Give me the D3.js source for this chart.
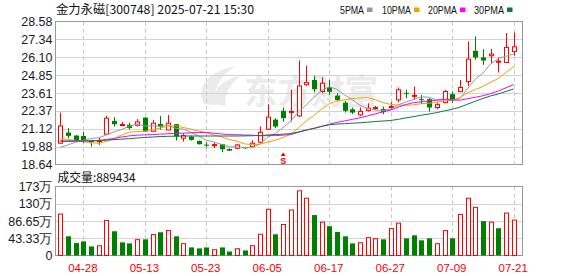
<!DOCTYPE html>
<html><head><meta charset="utf-8">
<script src="https://cdn.jsdelivr.net/npm/d3@7"></script>
<style>body{margin:0;background:#fff;} svg{display:block}</style>
</head><body>
<svg id="c" width="578" height="276"></svg>
<script>
// ---------- data ----------
const dates = ["04-23","04-24","04-25","04-28","04-29","04-30","05-06","05-07","05-08","05-09",
"05-12","05-13","05-14","05-15","05-16","05-19","05-20","05-21","05-22","05-23",
"05-26","05-27","05-28","05-29","05-30","06-03","06-04","06-05","06-06","06-09",
"06-10","06-11","06-12","06-13","06-16","06-17","06-18","06-19","06-20","06-23",
"06-24","06-25","06-26","06-27","06-30","07-01","07-02","07-03","07-04","07-07",
"07-08","07-09","07-10","07-11","07-14","07-15","07-16","07-17","07-18","07-21"];
const opens = [20.12,20.86,20.65,20.62,20.30,20.22,20.75,21.67,21.40,21.40,
21.37,21.90,20.95,21.46,21.04,21.44,20.47,20.58,20.28,20.02,
19.95,20.05,19.72,19.77,19.84,19.88,20.19,21.09,21.76,22.37,
22.28,22.02,24.18,24.52,23.71,24.00,23.43,22.94,22.48,22.09,
22.39,22.58,22.50,22.65,23.13,23.62,23.42,23.18,23.18,22.60,
22.94,23.53,23.71,24.40,26.54,26.08,26.20,25.78,25.73,26.49];
const highs = [22.25,21.16,20.70,20.93,20.35,20.51,22.02,21.93,21.60,21.55,
21.79,21.92,21.74,22.02,22.09,21.46,20.81,20.65,20.30,20.19,
20.16,20.05,19.75,20.05,19.86,20.33,21.28,22.83,21.86,22.60,
23.82,25.87,25.50,24.80,24.71,24.52,23.60,23.06,22.60,22.60,
22.90,22.71,22.67,22.97,23.99,23.83,24.06,23.48,23.25,22.90,
23.83,23.71,24.52,27.19,27.54,26.66,26.66,26.08,27.77,27.81];
const lows = [20.10,20.47,20.28,20.12,19.88,20.00,20.72,21.28,21.30,21.05,
21.28,20.90,20.93,21.05,21.02,20.30,20.23,20.30,20.03,19.84,
19.77,19.49,19.57,19.70,19.72,19.86,20.15,21.05,21.18,21.62,
21.62,21.95,24.12,23.67,23.60,23.48,23.02,22.25,22.14,22.02,
22.32,22.44,22.14,22.44,22.97,23.25,23.13,22.84,22.32,22.48,
22.90,22.90,23.68,24.10,25.92,25.57,25.67,25.03,25.70,26.20];
const closes = [21.32,20.63,20.34,20.32,20.20,20.30,21.86,21.44,21.42,21.18,
21.60,20.93,21.51,21.27,21.51,20.58,20.65,20.35,20.05,20.00,
20.02,19.70,19.60,20.00,19.77,20.12,20.88,21.93,21.28,21.86,
22.33,24.10,24.33,23.87,24.29,23.69,23.13,22.37,22.25,22.33,
22.55,22.60,22.28,22.67,23.83,23.58,23.45,23.15,22.60,22.80,
23.71,23.10,23.99,25.96,26.08,25.87,26.31,25.82,26.78,26.82];
// volume in 万 (10k)
const volumes = [104.0,48.2,31.2,35.5,22.8,24.5,88.0,60.9,33.0,30.4,
39.8,40.6,52.5,58.4,62.7,48.2,29.7,20.3,17.8,20.3,
14.4,20.3,10.1,17.0,12.7,24.6,53.3,116.0,53.3,77.9,
114.2,162.4,143.8,101.5,83.7,73.6,59.2,48.2,30.4,32.1,
44.8,42.3,40.6,67.6,81.2,43.1,50.7,38.1,43.1,29.6,
62.6,43.1,103.2,143.8,120.9,86.3,83.7,68.5,106.6,88.9434];
const ma5 = [19.84,20.00,20.19,20.33,20.45,20.50,20.70,20.90,21.08,21.30,
21.45,21.31,21.33,21.30,21.36,21.16,21.10,20.87,20.63,20.33,
20.21,20.02,19.87,19.86,19.82,19.84,20.07,20.54,20.80,21.21,
21.66,22.30,22.78,23.30,23.78,24.06,23.86,23.47,23.15,22.75,
22.53,22.42,22.40,22.49,22.79,22.99,23.16,23.34,23.32,23.12,
23.14,23.07,23.24,23.91,24.57,25.00,25.64,26.01,26.17,26.32];
const ma10 = [20.40,20.40,20.30,20.22,20.15,20.12,20.25,20.45,20.68,20.90,
20.93,20.96,21.07,21.17,21.30,21.33,21.21,21.10,20.96,20.85,
20.69,20.56,20.37,20.25,20.07,20.03,20.05,20.21,20.33,20.52,
20.75,21.19,21.66,22.05,22.50,22.86,23.08,23.13,23.22,23.27,
23.29,23.14,22.94,22.82,22.77,22.76,22.79,22.87,22.90,22.95,
23.07,23.12,23.29,23.62,23.84,24.07,24.36,24.62,25.04,25.44];
const ma20 = [20.28,20.28,20.29,20.29,20.30,20.31,20.38,20.45,20.55,20.63,
20.68,20.70,20.72,20.75,20.78,20.80,20.82,20.84,20.86,20.87,
20.81,20.76,20.72,20.71,20.69,20.68,20.63,20.65,20.65,20.68,
20.72,20.88,21.02,21.15,21.29,21.44,21.57,21.67,21.78,21.89,
22.02,22.16,22.30,22.43,22.63,22.81,22.94,23.00,23.06,23.11,
23.18,23.13,23.11,23.22,23.31,23.42,23.57,23.75,23.97,24.20];
const ma30 = [20.25,20.25,20.26,20.27,20.28,20.30,20.33,20.37,20.40,20.44,
20.48,20.52,20.55,20.58,20.60,20.61,20.62,20.62,20.62,20.62,
20.62,20.62,20.62,20.62,20.63,20.64,20.66,20.69,20.72,20.75,
20.79,20.90,21.04,21.15,21.29,21.40,21.45,21.48,21.51,21.54,
21.58,21.63,21.66,21.70,21.78,21.88,21.97,22.07,22.15,22.25,
22.37,22.48,22.63,22.83,23.04,23.23,23.41,23.54,23.72,23.89];
const priceTicks = [18.64,19.8825,21.125,22.3675,23.61,24.8525,26.095,27.3375,28.58];
const priceTickLabels = ["18.64","19.88","21.12","22.37","23.61","24.85","26.10","27.34","28.58"];
const volTicks = [0,43.325,86.65,129.975,173.3];
const volTickLabels = ["0","43.33万","86.65万","130万","173万"];
const dateTicks = ["04-28","05-13","05-23","06-05","06-17","06-27","07-09","07-21"];
const legendNames = ["5PMA","10PMA","20PMA","30PMA"];
const titleText = "金力永磁[300748] 2025-07-21 15:30";
const volTitleText = "成交量:889434";
const signalDate = "06-09";

// ---------- layout ----------
const L = 55.5, R = 522.5;
const mainTop = 21.5, mainBot = 164.5;
const volTop = 186.5, volBot = 255.5;
const maColors = ["#999999","#f0a000","#ff00ff","#0b7a3b"];
const RED = "#ff0000", GREEN = "#008000";
const labelFont = "'Liberation Sans', Arial, sans-serif";
const cjkFont = "'Noto Sans CJK SC', sans-serif";

const svg = d3.select("#c");
const x = d3.scalePoint().domain(dates).range([60.3, 513.7]);
const y = d3.scaleLinear().domain([18.64, 28.58]).range([mainBot, mainTop]);
const yv = d3.scaleLinear().domain([0, 173.3]).range([volBot, volTop]);

// watermark
const wm = svg.append("g").attr("fill", "#ebebeb");
wm.append("path").attr("d", "M204,104 C196,88 206,72 236,66 C220,76 212,90 216,105 Z");
wm.append("path").attr("d", "M214,104 C212,92 220,80 240,76 C228,86 224,96 226,106 Z");
wm.append("text").attr("x", 244).attr("y", 104).attr("font-family", cjkFont)
  .attr("font-size", 34).attr("font-weight", "bold")
  .attr("textLength", 134).attr("lengthAdjust", "spacingAndGlyphs").text("东方财富");

// grid
const grid = svg.append("g");
priceTicks.slice(1, -1).forEach(t => {
  grid.append("line").attr("x1", L).attr("x2", R).attr("y1", Math.round(y(t)) + 0.5).attr("y2", Math.round(y(t)) + 0.5)
    .attr("stroke", "#d4d4d4");
});
volTicks.slice(1, -1).forEach(t => {
  grid.append("line").attr("x1", L).attr("x2", R).attr("y1", Math.round(yv(t)) + 0.5).attr("y2", Math.round(yv(t)) + 0.5)
    .attr("stroke", "#d4d4d4");
});
dateTicks.forEach(d => {
  const xx = Math.round(x(d)) + 0.5;
  [[mainTop, mainBot], [volTop, volBot]].forEach(([a, b]) => {
    grid.append("line").attr("x1", xx).attr("x2", xx).attr("y1", a).attr("y2", b)
      .attr("stroke", "#c8c8c8").attr("stroke-dasharray", "4,3");
  });
});

// frames
[[mainTop, mainBot], [volTop, volBot]].forEach(([a, b]) => {
  svg.append("rect").attr("x", L).attr("y", a).attr("width", R - L).attr("height", b - a)
    .attr("fill", "none").attr("stroke", "#9a9a9a");
});

// candles
const cw = 5;
const cg = svg.append("g");
dates.forEach((d, i) => {
  const up = closes[i] >= opens[i];
  const col = up ? RED : GREEN;
  const cx = Math.round(x(d)) + 0.5;
  cg.append("line").attr("x1", cx).attr("x2", cx).attr("y1", y(highs[i])).attr("y2", y(lows[i]))
    .attr("stroke", col);
  const top = y(Math.max(opens[i], closes[i])), bot = y(Math.min(opens[i], closes[i]));
  const h = Math.max(1, bot - top);
  if (up) {
    cg.append("rect").attr("x", cx - 2).attr("y", top).attr("width", cw - 1).attr("height", h)
      .attr("fill", h > 1.5 ? "#fff" : RED).attr("stroke", RED);
  } else {
    cg.append("rect").attr("x", cx - 2.5).attr("y", top).attr("width", cw).attr("height", h)
      .attr("fill", GREEN);
  }
});

// moving averages
const line = d3.line().x((v, i) => x(dates[i])).y(v => y(v));
[ma5, ma10, ma20, ma30].forEach((arr, k) => {
  svg.append("path").attr("d", line(arr)).attr("fill", "none")
    .attr("stroke", maColors[k]).attr("stroke-width", 1);
});

// signal marker
const sx = x(signalDate);
svg.append("path").attr("d", `M${sx - 2.5},${156} L${sx},${152.5} L${sx + 2.5},${156} Z`).attr("fill", RED);
svg.append("text").attr("x", sx).attr("y", 163.5).attr("text-anchor", "middle")
  .attr("font-family", labelFont).attr("font-size", 9).attr("font-weight", "bold")
  .attr("fill", RED).text("S");

// volume bars
const vg = svg.append("g");
dates.forEach((d, i) => {
  const prev = i === 0 ? opens[0] : closes[i - 1];
  const up = closes[i] >= prev;
  const cx = Math.round(x(d)) + 0.5;
  const top = yv(volumes[i]);
  if (up) {
    vg.append("rect").attr("x", cx - 2).attr("y", top).attr("width", cw - 1).attr("height", volBot - top)
      .attr("fill", "#fff").attr("stroke", RED);
  } else {
    vg.append("rect").attr("x", cx - 2.5).attr("y", top).attr("width", cw).attr("height", volBot - top)
      .attr("fill", GREEN);
  }
});

// axes
const ay = svg.append("g").attr("transform", `translate(${L},0)`)
  .call(d3.axisLeft(y).tickValues(priceTicks).tickSize(0).tickPadding(3)
    .tickFormat((t, i) => priceTickLabels[i]));
const av = svg.append("g").attr("transform", `translate(${L},0)`)
  .call(d3.axisLeft(yv).tickValues(volTicks).tickSize(0).tickPadding(3)
    .tickFormat((t, i) => volTickLabels[i]));
[ay, av].forEach(g => {
  g.select(".domain").remove();
  g.selectAll("text").attr("font-family", labelFont).attr("font-size", 12.5).attr("fill", "#1a1a2a");
});
const ax = svg.append("g").attr("transform", `translate(0,${volBot})`)
  .call(d3.axisBottom(x).tickValues(dateTicks).tickSize(0).tickPadding(8));
ax.select(".domain").remove();
ax.selectAll("text").attr("font-family", labelFont).attr("font-size", 11.5).attr("fill", RED)
  .attr("dx", -1);

// title
svg.append("text").attr("x", 56).attr("y", 13.5).attr("font-family", cjkFont).attr("font-size", 12)
  .attr("fill", "#111").attr("textLength", 198).attr("lengthAdjust", "spacingAndGlyphs").text(titleText);

// volume label
svg.append("text").attr("x", 57.5).attr("y", 181.5).attr("font-family", cjkFont).attr("font-size", 12)
  .attr("fill", "#111").attr("textLength", 78).attr("lengthAdjust", "spacingAndGlyphs").text(volTitleText);

// legend
const legX = [340, 382, 428, 474];
const legW = [24, 29, 29, 30];
legendNames.forEach((n, k) => {
  svg.append("text").attr("x", legX[k]).attr("y", 13.5).attr("font-family", labelFont)
    .attr("font-size", 11).attr("fill", "#111")
    .attr("textLength", legW[k]).attr("lengthAdjust", "spacingAndGlyphs").text(n);
  svg.append("rect").attr("x", legX[k] + legW[k] + 3).attr("y", 7.5).attr("width", 5.5).attr("height", 4.5)
    .attr("fill", maColors[k]);
});
</script>
</body></html>
